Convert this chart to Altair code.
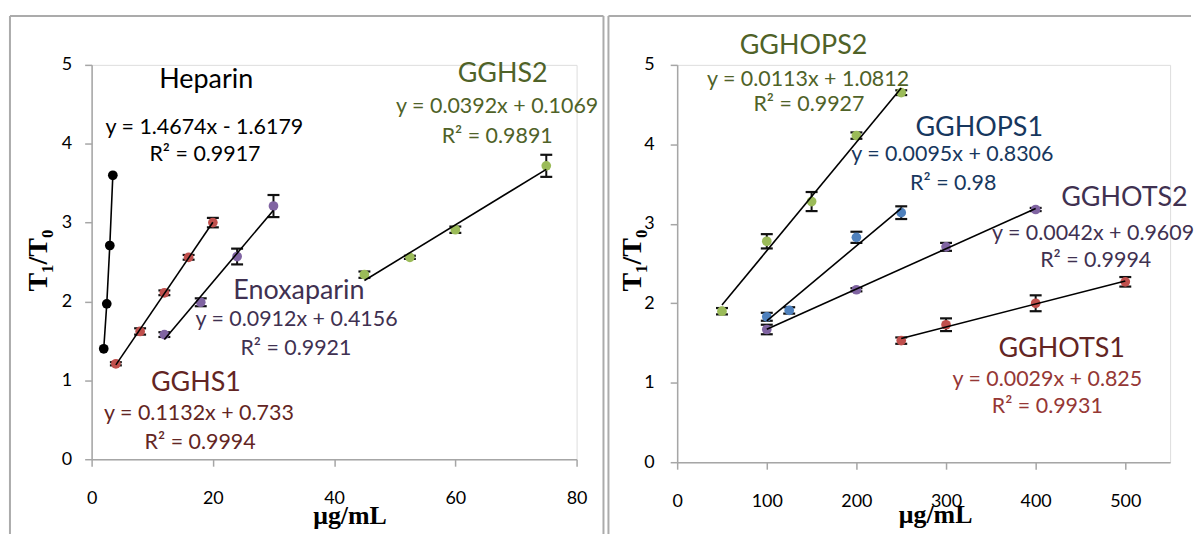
import altair as alt
import pandas as pd

# ---------------- Left panel data ----------------
hep_x = [2, 2.5, 3, 3.5]
hep_y = [1.40, 1.97, 2.71, 3.60]
hep_err = [0, 0, 0, 0]
gghs1_x = [4, 8, 12, 16, 20]
gghs1_y = [1.21, 1.62, 2.11, 2.56, 3.00]
gghs1_err = [0.02, 0.04, 0.03, 0.03, 0.06]
enox_x = [12, 18, 24, 30]
enox_y = [1.58, 1.99, 2.57, 3.21]
enox_err = [0.03, 0.05, 0.10, 0.14]
gghs2_x = [45, 52.5, 60, 75]
gghs2_y = [2.34, 2.56, 2.91, 3.72]
gghs2_err = [0.04, 0.02, 0.04, 0.14]

# ---------------- Right panel data ----------------
gghops2_x = [50, 100, 150, 200, 250]
gghops2_y = [1.90, 2.78, 3.28, 4.11, 4.65]
gghops2_err = [0.04, 0.09, 0.12, 0.04, 0.03]
gghops1_x = [100, 125, 200, 250]
gghops1_y = [1.83, 1.91, 2.83, 3.14]
gghops1_err = [0.05, 0.04, 0.07, 0.08]
gghots2_x = [100, 200, 300, 400]
gghots2_y = [1.67, 2.17, 2.71, 3.18]
gghots2_err = [0.06, 0.02, 0.05, 0.02]
gghots1_x = [250, 300, 400, 500]
gghots1_y = [1.53, 1.73, 2.00, 2.27]
gghots1_err = [0.04, 0.08, 0.10, 0.06]

left_series = ["Heparin", "GGHS1", "Enoxaparin", "GGHS2"]
left_colors = ["#000000", "#C0504D", "#8064A2", "#9BBB59"]
right_series = ["GGHOPS2", "GGHOPS1", "GGHOTS2", "GGHOTS1"]
right_colors = ["#9BBB59", "#4F81BD", "#8064A2", "#C0504D"]

# annotations: (text, x, y, kind, colour)
left_notes = [
    ("Heparin", 18.9, 4.81, "name", "#000000"),
    ("y = 1.4674x - 1.6179", 18.6, 4.20, "eq", "#000000"),
    ("R² = 0.9917", 18.7, 3.86, "eq", "#000000"),
    ("GGHS2", 67.8, 4.89, "name", "#4F6228"),
    ("y = 0.0392x + 0.1069", 66.9, 4.46, "eq", "#4F6228"),
    ("R² = 0.9891", 66.9, 4.09, "eq", "#4F6228"),
    ("Enoxaparin", 34.2, 2.13, "name", "#3F3151"),
    ("y = 0.0912x + 0.4156", 33.8, 1.76, "eq", "#3F3151"),
    ("R² = 0.9921", 33.7, 1.40, "eq", "#3F3151"),
    ("GGHS1", 17.2, 0.97, "name", "#632523"),
    ("y = 0.1132x + 0.733", 17.7, 0.57, "eq", "#632523"),
    ("R² = 0.9994", 17.9, 0.20, "eq", "#632523"),
]
right_notes = [
    ("GGHOPS2", 141, 5.24, "name", "#4F6228"),
    ("y = 0.0113x + 1.0812", 146, 4.81, "eq", "#4F6228"),
    ("R² = 0.9927", 147, 4.49, "eq", "#4F6228"),
    ("GGHOPS1", 337, 4.21, "name", "#17375E"),
    ("y = 0.0095x + 0.8306", 307, 3.86, "eq", "#17375E"),
    ("R² = 0.98", 308, 3.50, "eq", "#17375E"),
    ("GGHOTS2", 499, 3.32, "name", "#3F3151"),
    ("y = 0.0042x + 0.9609", 464, 2.87, "eq", "#3F3151"),
    ("R² = 0.9994", 467, 2.53, "eq", "#3F3151"),
    ("GGHOTS1", 429, 1.43, "name", "#632523"),
    ("y = 0.0029x + 0.825", 413, 1.03, "eq", "#953735"),
    ("R² = 0.9931", 413, 0.69, "eq", "#953735"),
]

SANS = "Lato"
SERIF = "Liberation Serif"
NAME_SIZE = 27
EQ_SIZE = 21.5
AXIS_GREY = "#A6A6A6"
FRAME_GREY = "#ABABAB"


def build_df(names, xs, ys, es):
    rows = []
    for n, xl, yl, el in zip(names, xs, ys, es):
        for a, b, c in zip(xl, yl, el):
            rows.append({"series": n, "x": a, "y": b, "err": c})
    return pd.DataFrame(rows)


left_df = build_df(left_series,
                   [hep_x, gghs1_x, enox_x, gghs2_x],
                   [hep_y, gghs1_y, enox_y, gghs2_y],
                   [hep_err, gghs1_err, enox_err, gghs2_err])
right_df = build_df(right_series,
                    [gghops2_x, gghops1_x, gghots2_x, gghots1_x],
                    [gghops2_y, gghops1_y, gghots2_y, gghots1_y],
                    [gghops2_err, gghops1_err, gghots2_err, gghots1_err])


def vrule(xv, y0, y1):
    return alt.Chart(pd.DataFrame({"k": [0]})).mark_rule(
        color=FRAME_GREY, strokeWidth=2
    ).encode(x=alt.value(xv), y=alt.value(y0), y2=alt.value(y1))


def hrule(x0, x1, yv):
    return alt.Chart(pd.DataFrame({"k": [0]})).mark_rule(
        color=FRAME_GREY, strokeWidth=2
    ).encode(x=alt.value(x0), x2=alt.value(x1), y=alt.value(yv))


def panel(df, series, colors, notes, xdom, xticks, width, height,
          ylab_pad, ytitle_x, ytitle_y, xtitle_x, xtitle_y, frame_rules,
          connect=None):
    xs = alt.Scale(domain=xdom, nice=False)
    ys = alt.Scale(domain=[0, 5], nice=False)
    xax = alt.Axis(values=xticks, grid=False, domainColor=AXIS_GREY, domainWidth=1.5,
                   tickColor=AXIS_GREY, tickWidth=1.5, tickSize=7, format="d",
                   labelFont=SANS, labelFontSize=18, labelColor="#000000",
                   labelPadding=23, labelFlush=False,
                   title="μg/mL", titleFont=SERIF, titleFontSize=26,
                   titleFontWeight="bold", titleColor="#000000",
                   titleX=xtitle_x, titleY=xtitle_y, titleBaseline="alphabetic",
                   titleAlign="center")
    yax = alt.Axis(values=[0, 1, 2, 3, 4, 5], grid=False, domainColor=AXIS_GREY,
                   domainWidth=1.5, tickColor=AXIS_GREY, tickWidth=1.5, tickSize=7,
                   format="d",
                   labelFont=SANS, labelFontSize=18, labelColor="#000000",
                   labelPadding=ylab_pad, labelFlush=False,
                   title="T₁/T₀", titleFont=SERIF, titleFontSize=28,
                   titleFontWeight="bold", titleColor="#000000",
                   titleX=ytitle_x, titleY=ytitle_y, titleBaseline="middle",
                   titleAlign="center", titleAngle=270)

    base = alt.Chart(df)
    X = alt.X("x:Q", scale=xs, axis=xax)
    Y = alt.Y("y:Q", scale=ys, axis=yax)

    layers = list(frame_rules)

    fit_src = base.transform_filter(
        alt.FieldOneOfPredicate(field="series", oneOf=[s for s in series if s != connect]))
    trend = fit_src.transform_regression("x", "y", groupby=["series"]).mark_line(
        color="#000000", strokeWidth=1.6
    ).encode(x=X, y=Y, detail="series:N")

    err_src = base.transform_filter("datum.err > 0").transform_calculate(
        lo="datum.y - datum.err", hi="datum.y + datum.err")
    bars = err_src.mark_rule(color="#111111", strokeWidth=2).encode(
        x=X, y=alt.Y("lo:Q", scale=ys), y2="hi:Q")
    cap_lo = err_src.mark_rule(color="#111111", strokeWidth=2.2, xOffset=-6, x2Offset=6).encode(
        x=X, x2="x:Q", y=alt.Y("lo:Q", scale=ys))
    cap_hi = err_src.mark_rule(color="#111111", strokeWidth=2.2, xOffset=-6, x2Offset=6).encode(
        x=X, x2="x:Q", y=alt.Y("hi:Q", scale=ys))

    pts = base.mark_circle(size=95, opacity=1).encode(
        x=X, y=Y,
        color=alt.Color("series:N", scale=alt.Scale(domain=series, range=colors), legend=None))

    layers += [bars, cap_lo, cap_hi, pts]
    if connect is not None:
        cl = base.transform_filter(alt.FieldEqualPredicate(field="series", equal=connect)).mark_line(
            color="#000000", strokeWidth=1.6).encode(x=X, y=Y, order="x:Q")
        layers.append(cl)
    layers.append(trend)

    for txt, tx, ty, kind, col in notes:
        t = alt.Chart(pd.DataFrame({"k": [0]})).mark_text(
            text=txt, font=SANS, fontSize=NAME_SIZE if kind == "name" else EQ_SIZE,
            color=col, align="center", baseline="middle"
        ).encode(x=alt.datum(tx, scale=xs), y=alt.datum(ty, scale=ys))
        layers.append(t)

    return alt.layer(*layers).properties(width=width, height=height)


left_frame = [vrule(-82, -49, 480), hrule(-82, 514, -49), vrule(514, -49, 480)]
right_frame = [vrule(-69, -49, 480), hrule(-69, 516, -49)]

left = panel(left_df, left_series, left_colors, left_notes, [0, 80], [0, 20, 40, 60, 80],
             487, 396, 13, -53, 196, 259, 65, left_frame, connect="Heparin")
right = panel(right_df, right_series, right_colors, right_notes, [0, 550],
              [0, 100, 200, 300, 400, 500],
              495, 399, 16, -45, 196, 259, 61, right_frame)

chart = alt.hconcat(left, right, spacing=101, bounds="flush").resolve_scale(
    color="independent"
).properties(
    padding={"left": 8, "top": 13, "right": 0, "bottom": 0}
).configure_view(strokeWidth=0).configure(background="#FFFFFF")

chart.save("out.html", embed_options={"renderer": "svg", "actions": False})
